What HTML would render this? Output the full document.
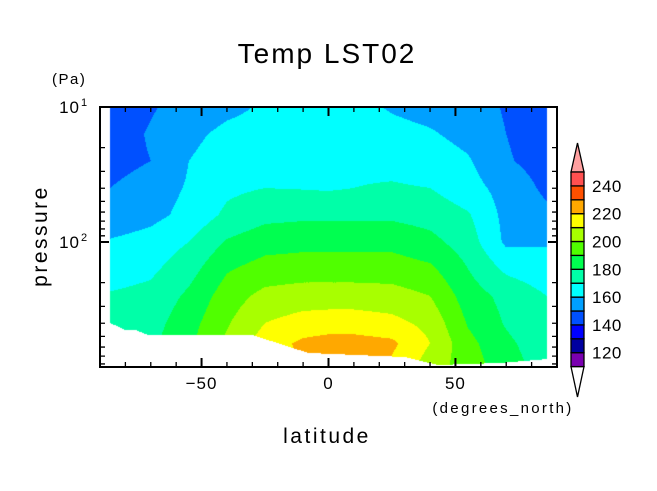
<!DOCTYPE html>
<html><head><meta charset="utf-8"><style>
body{margin:0;background:#fff;width:657px;height:491px;overflow:hidden;font-family:"Liberation Sans","DejaVu Sans",sans-serif}
#wrap{position:relative;width:657px;height:491px}
canvas,svg{position:absolute;left:0;top:0}
</style></head><body>
<div id="wrap">
<canvas id="cv" width="657" height="491"></canvas>
<svg id="sv" width="657" height="491"></svg>
</div>
<script>
// ---- data ----
const lats = [-86,-70,-55,-40,-25,-10,0,10,25,40,55,70,86];
const logp = [1.0,1.2,1.4,1.6,1.8,2.0,2.2,2.4,2.6,2.75,2.93];
const T0  = [144,149,154,158,161,164,164,163,159,156.7,154.7,149,144];
const T1  = [145,151,158,162,163,165,165,165,163,161,157,150,145];
const T2  = [146,150,160,164,167,168,168,168,167,165,161,151,146];
const T3  = [150,155,161,168,170,169.5,169,170,171,170,164,156,148];
const T4  = [153,157,163,172,177,178,178,178,178,176,171,157,152];
const T5  = [161,164,170,181,186,187,187,187,187,183,175,158,159];
const T6  = [165,168,176,189,194,195,195,195,195,192,180,168,164];
const T7  = [171,173,182,195,203,205,205,205,204,200,185,177,170];
const T8  = [173,176,186,199,210,214,215,215,213,207,189,179,173];
const T9  = [174,178,188,202,215,222,224,224,222,210,193,182,174];
const T10 = [175,178,188,203,215,221,222,222,218,205,195,185,175];
const field = [T0,T1,T2,T3,T4,T5,T6,T7,T8,T9,T10];
// surface (masked region boundary)
const sfcLat  = [-86,-80,-76,-71,-30,-8,30,43,68,86];
const sfcLogp = [2.6,2.652,2.652,2.689,2.689,2.822,2.852,2.911,2.896,2.867];
const levels = [110,120,130,140,150,160,170,180,190,200,210,220,230,240,250];
const colors = ["#7a00b0","#0000a0","#0000ff","#0050ff","#00a0ff","#00ffff","#00ffa8","#00ff50","#50ff00","#a8ff00","#ffff00","#ffa800","#ff5000","#ff5050"];
const cbLabels = ["120","140","160","180","200","220","240"];
const xTicks = [-50,0,50];
// ---- axes ----
const L=100,R=557,Tp=107,B=367;
const xS = lat => 328.5 + (lat)*(R-L)/180;
const xInv = x => (x-328.5)*180/(R-L);
const yS = lp => Tp + (lp-1)*135;
const yInv = y => 1 + (y-Tp)/135;
function interp1(xs, v){
  if(v<=xs[0]) return [0,0];
  for(let i=0;i<xs.length-1;i++) if(v<=xs[i+1]) return [i,(v-xs[i])/(xs[i+1]-xs[i])];
  return [xs.length-2,1];
}
function valAt(lat,lp){
  const [i,fx]=interp1(lats,lat), [j,fy]=interp1(logp,lp);
  const a=field[j][i],b=field[j][i+1],c=field[j+1][i],d=field[j+1][i+1];
  return (a*(1-fx)+b*fx)*(1-fy)+(c*(1-fx)+d*fx)*fy;
}
function sfc(lat){const [i,f]=interp1(sfcLat,lat);return sfcLogp[i]*(1-f)+sfcLogp[i+1]*f;}
function hex(h){return [parseInt(h.substr(1,2),16),parseInt(h.substr(3,2),16),parseInt(h.substr(5,2),16)];}
const rgb=colors.map(hex);
const cv=document.getElementById('cv'),ctx=cv.getContext('2d');
const x0=Math.round(xS(lats[0])),x1=Math.round(xS(lats[lats.length-1]));
const img=ctx.createImageData(x1-x0,B-Tp);
for(let py=Tp;py<B;py++){const lp=yInv(py+0.5);
  for(let px=x0;px<x1;px++){const lat=xInv(px+0.5);
    const k=((py-Tp)*(x1-x0)+(px-x0))*4;
    if(lp>sfc(lat)){img.data[k+3]=0;continue;}
    const v=valAt(lat,lp);
    let b=0;while(b<colors.length-1&&v>=levels[b+1])b++;
    img.data[k]=rgb[b][0];img.data[k+1]=rgb[b][1];img.data[k+2]=rgb[b][2];img.data[k+3]=255;}}
ctx.putImageData(img,x0,Tp);
// ---- svg overlay ----
const NS="http://www.w3.org/2000/svg",sv=document.getElementById('sv');
function mk(t,a,txt){const e=document.createElementNS(NS,t);for(const k in a)e.setAttribute(k,a[k]);if(txt!==undefined)e.textContent=txt;sv.appendChild(e);return e;}
let e;
e=mk('rect',{x:L,y:Tp,width:R-L,height:B-Tp,fill:'none',stroke:'#000','stroke-width':2});


for(let lat=-80;lat<=80;lat+=10){const x=xS(lat),maj=lat%50===0,len=maj?9:5;
  e=mk('path',{d:`M${x},${B}v${-len}M${x},${Tp}v${len}`,stroke:'#000','stroke-width':maj?2:1.3});
  
  }
xTicks.forEach(t=>{e=mk('text',{x:xS(t),y:389,'text-anchor':'middle','font-size':17,'letter-spacing':1},t===0?'0':(t<0?'−'+(-t):String(t)));
  
  });
for(let dec=1;dec<=2;dec++)for(let m=1;m<=9;m++){const lp=dec+Math.log10(m);const y=yS(lp);if(y>B-1)continue;const maj=m===1,len=maj?9:5;
  e=mk('path',{d:`M${L},${y}h${len}M${R},${y}h${-len}`,stroke:'#000','stroke-width':maj?2:1.3});
  
  }
[[1,'10','1'],[2,'10','2']].forEach(([lp,b,s])=>{const y=yS(lp);
  e=mk('text',{x:80,y:y+6,'text-anchor':'end','font-size':17,'letter-spacing':1},b);
  
  
  e=mk('text',{x:81,y:y-1,'font-size':11},s);
  
  });
e=mk('text',{x:327,y:63,'text-anchor':'middle','font-size':28,'letter-spacing':2},'Temp  LST02');


e.setAttribute('xml:space','preserve');
e=mk('text',{x:52,y:84,'font-size':15,'letter-spacing':1.5},'(Pa)');


e=mk('text',{x:0,y:0,'font-size':21,'letter-spacing':2.5,'text-anchor':'middle',transform:'translate(47,236) rotate(-90)'},'pressure');


e=mk('text',{x:327,y:443,'text-anchor':'middle','font-size':21,'letter-spacing':2.5},'latitude');


e=mk('text',{x:503,y:413,'text-anchor':'middle','font-size':15,'letter-spacing':2.3},'(degrees_north)');


// colorbar
const cbL=571,cbW=13,cbTop=172,bh=13.9,n=colors.length;
const cbBot=cbTop+n*bh;
e=mk('path',{d:`M${cbL},${cbTop}L${cbL+cbW/2},143L${cbL+cbW},${cbTop}Z`,fill:'#ffa0a0',stroke:'#000','stroke-width':1.3});


e=mk('path',{d:`M${cbL},${cbBot}L${cbL+cbW/2},397L${cbL+cbW},${cbBot}Z`,fill:'#fff',stroke:'#000','stroke-width':1.3});


colors.forEach((c,i)=>{const y=cbBot-(i+1)*bh;
  e=mk('rect',{x:cbL,y:y,width:cbW,height:bh,fill:c,stroke:'#000','stroke-width':1.3});
  
  });
cbLabels.forEach(t=>{const v=+t;const i=levels.indexOf(v);const y=cbBot-i*bh;
  e=mk('text',{x:592,y:y+6,'font-size':17,'letter-spacing':0.5},t);
  
  });
</script>
</body></html>
